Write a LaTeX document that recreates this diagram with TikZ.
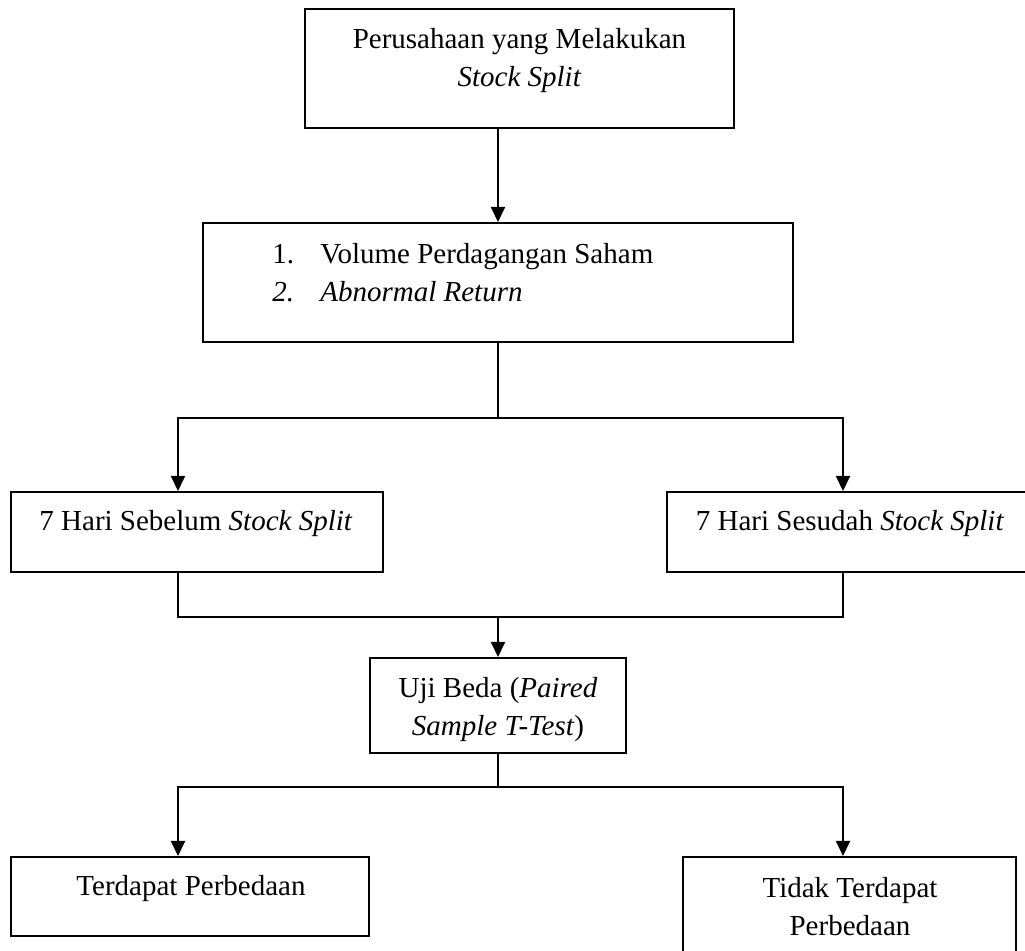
\documentclass[tikz,border=0pt]{standalone}
\usepackage{fontspec}
\setmainfont{Liberation Serif}
\usetikzlibrary{arrows.meta, positioning}

\begin{document}
\begin{tikzpicture}[
    x=0.5pt, y=-0.5pt,
    box/.style={draw, rectangle, line width=1pt, inner sep=0pt},
    txt/.style={anchor=north, inner sep=0pt, align=center, font=\fontsize{14.5}{19}\selectfont},
    arrow/.style={-{Triangle[length=7.5pt, width=7pt]}, line width=1pt},
    line/.style={line width=1pt}
]
\useasboundingbox (0,0) rectangle (1025,951);
\clip (0,0) rectangle (1025,951);

% Boxes
\node (firm) [box, minimum width=214.5pt, minimum height=59.5pt] at (519.5,68.5) {};
\node (metrics) [box, minimum width=295pt, minimum height=59.5pt] at (498,282.5) {};
\node (before) [box, minimum width=186pt, minimum height=40pt] at (197,532) {};
\node (after) [box, minimum width=186.5pt, minimum height=40pt] at (853.5,532) {};
\node (test) [box, minimum width=128pt, minimum height=47.5pt] at (498,705.5) {};
\node (yes) [box, minimum width=179pt, minimum height=39.5pt] at (190,896.5) {};
\node (no) [box, minimum width=166.5pt, minimum height=54pt] at (849.5,911) {};

% Texts
\node (firmtext) [txt] at (519.5,28) {Perusahaan yang Melakukan\\\textit{Stock Split}};
\node (metricstext) [txt, anchor=north west, align=left] at (272,243) {\makebox[24pt][l]{1.}Volume Perdagangan Saham\\\makebox[24pt][l]{\textit{2.}}\textit{Abnormal Return}};
\node (beforetext) [txt] at (196,510) {7 Hari Sebelum \textit{Stock Split}};
\node (aftertext) [txt] at (850,510) {7 Hari Sesudah \textit{Stock Split}};
\node (testtext) [txt] at (498,677) {Uji Beda (\textit{Paired}\\\textit{Sample T-Test})};
\node (yestext) [txt] at (191,875) {Terdapat Perbedaan};
\node (notext) [txt] at (850,877) {Tidak Terdapat\\Perbedaan};

% Junction points
\coordinate (splitL) at (178,418);
\coordinate (splitR) at (843,418);
\coordinate (joinL) at (178,617);
\coordinate (joinR) at (843,617);
\coordinate (branchL) at (178,787);
\coordinate (branchR) at (843,787);

% Paths
\draw [arrow] (metrics.north |- firm.south) -- (metrics.north);
\draw [arrow] (metrics.south) |- (splitL) -- (splitL |- before.north);
\draw [arrow] (metrics.south) |- (splitR) -- (splitR |- after.north);
\draw [line] (joinL |- before.south) -- (joinL) -- (joinR) -- (joinR |- after.south);
\draw [arrow] (test.north |- joinL) -- (test.north);
\draw [arrow] (test.south) |- (branchL) -- (branchL |- yes.north);
\draw [arrow] (test.south) |- (branchR) -- (branchR |- no.north);

\end{tikzpicture}
\end{document}
